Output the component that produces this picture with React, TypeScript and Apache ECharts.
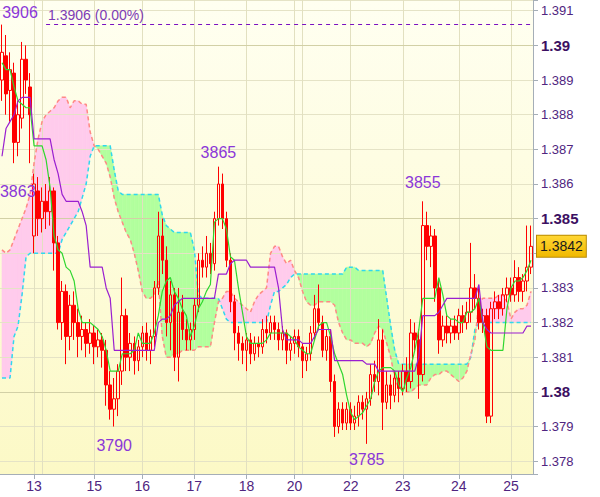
import React, { useEffect, useRef } from 'react';
import * as echarts from 'echarts';

// Prices are stored in pips of 1.3xxx: 3842 => 1.3842
const dayTicks: [number, string][] = [
  [8, '13'], [23, '15'], [35, '16'], [48, '17'], [61, '18'],
  [73, '20'], [87, '22'], [100, '23'], [114, '24'], [127, '25'],
];
const sessionLines = [10, 75];
const majorLevels = [3800, 3850, 3900];
const refLevel = 3906;
const refStart = 11;

const open = [
  3890, 3897, 3887, 3892, 3872, 3879, 3896, 3888, 3845, 3858,
  3850, 3855, 3852, 3858, 3843, 3820, 3829, 3816, 3825, 3820,
  3816, 3818, 3814, 3817, 3813, 3815, 3812, 3802, 3795, 3798,
  3806, 3822, 3810, 3814, 3809, 3813, 3817, 3812, 3816, 3830,
  3845, 3838, 3820, 3828, 3810, 3823, 3818, 3815, 3818, 3825,
  3838, 3836, 3840, 3837, 3850, 3860, 3850, 3838, 3826, 3817,
  3814, 3812, 3815, 3811, 3814, 3813, 3818, 3817, 3820, 3818,
  3815, 3817, 3812, 3814, 3816, 3813, 3809, 3811, 3817, 3824,
  3820, 3812, 3816, 3803, 3790, 3795, 3791, 3795, 3791, 3793,
  3797, 3795, 3798, 3805, 3803, 3815, 3797, 3802, 3799, 3804,
  3801, 3806, 3803, 3817, 3815, 3805, 3848, 3842, 3845, 3830,
  3815, 3819, 3817, 3819, 3817, 3822, 3820, 3823, 3830, 3827,
  3820, 3822, 3793, 3824, 3826, 3824, 3828, 3830, 3828, 3833,
  3829, 3832, 3836,
];
const close = [
  3898, 3886, 3893, 3872, 3880, 3896, 3890, 3880, 3860, 3850,
  3855, 3852, 3858, 3843, 3820, 3829, 3816, 3825, 3820, 3816,
  3818, 3814, 3817, 3813, 3815, 3812, 3802, 3795, 3798, 3806,
  3822, 3810, 3814, 3809, 3813, 3817, 3812, 3816, 3830, 3845,
  3838, 3820, 3828, 3810, 3823, 3818, 3815, 3818, 3825, 3838,
  3836, 3840, 3837, 3850, 3860, 3850, 3838, 3826, 3817, 3814,
  3812, 3815, 3811, 3814, 3813, 3818, 3817, 3820, 3818, 3815,
  3817, 3812, 3814, 3816, 3813, 3809, 3811, 3817, 3824, 3820,
  3812, 3816, 3803, 3790, 3795, 3791, 3795, 3791, 3793, 3797,
  3795, 3798, 3805, 3803, 3815, 3797, 3802, 3799, 3804, 3801,
  3806, 3803, 3817, 3815, 3805, 3848, 3842, 3845, 3830, 3815,
  3819, 3817, 3819, 3817, 3822, 3820, 3823, 3830, 3827, 3820,
  3822, 3793, 3824, 3826, 3824, 3828, 3830, 3828, 3833, 3829,
  3832, 3836, 3842,
];
const high = [
  3906, 3903, 3898, 3895, 3884, 3901, 3900, 3892, 3863, 3862,
  3859, 3860, 3862, 3859, 3845, 3832, 3831, 3828, 3829, 3824,
  3822, 3820, 3821, 3819, 3818, 3817, 3815, 3806, 3804, 3808,
  3833, 3824, 3817, 3816, 3815, 3819, 3820, 3818, 3832, 3852,
  3850, 3842, 3832, 3830, 3830, 3828, 3821, 3820, 3827, 3840,
  3842, 3845, 3843, 3852, 3865, 3863, 3852, 3840, 3828, 3819,
  3816, 3817, 3817, 3816, 3816, 3821, 3822, 3822, 3822, 3820,
  3819, 3818, 3816, 3818, 3818, 3814, 3813, 3819, 3828, 3831,
  3822, 3818, 3818, 3805, 3797, 3797, 3797, 3797, 3796, 3799,
  3799, 3800, 3808, 3809, 3821, 3818, 3806, 3805, 3806, 3806,
  3808, 3810, 3821, 3820, 3818, 3855, 3852, 3848, 3847, 3832,
  3822, 3822, 3821, 3822, 3824, 3825, 3826, 3843, 3834, 3830,
  3824, 3824, 3826, 3829, 3828, 3830, 3833, 3833, 3838, 3836,
  3834, 3848, 3848,
];
const low = [
  3884, 3880, 3878, 3866, 3868, 3876, 3886, 3866, 3840, 3845,
  3846, 3847, 3848, 3835, 3818, 3815, 3808, 3812, 3815, 3810,
  3812, 3810, 3811, 3808, 3810, 3807, 3796, 3792, 3790, 3793,
  3802, 3806, 3806, 3805, 3806, 3810, 3809, 3808, 3813, 3828,
  3834, 3816, 3812, 3806, 3803, 3815, 3812, 3812, 3815, 3823,
  3833, 3833, 3834, 3835, 3848, 3847, 3836, 3823, 3812, 3809,
  3808, 3806, 3808, 3809, 3810, 3811, 3814, 3815, 3815, 3812,
  3812, 3808, 3809, 3811, 3810, 3804, 3806, 3809, 3815, 3818,
  3810, 3809, 3800, 3787, 3788, 3789, 3789, 3789, 3789, 3790,
  3792, 3785, 3796, 3800, 3799, 3789, 3795, 3795, 3797, 3797,
  3799, 3800, 3801, 3812, 3798, 3803, 3838, 3836, 3826, 3811,
  3813, 3814, 3814, 3815, 3815, 3817, 3818, 3820, 3824, 3818,
  3817, 3791, 3791, 3821, 3821, 3822, 3826, 3826, 3826, 3826,
  3826, 3829, 3834,
];
const tenkan = [
  3895, 3893, 3893, 3888, 3884, 3883, 3882, 3882, 3871, 3871,
  3871, 3867, 3859, 3845, 3841, 3840, 3836, 3835, 3832, 3824,
  3820, 3820, 3820, 3819, 3818, 3816, 3812, 3806, 3806, 3806,
  3811, 3811, 3811, 3812, 3817, 3814, 3814, 3814, 3817, 3822,
  3829, 3832, 3833, 3829, 3827, 3824, 3822, 3816, 3819, 3824,
  3826, 3829, 3831, 3849, 3850, 3850, 3847, 3839, 3838, 3830,
  3823, 3816, 3814, 3814, 3814, 3814, 3815, 3817, 3817, 3817,
  3817, 3817, 3816, 3815, 3813, 3812, 3811, 3811, 3815, 3819,
  3820, 3820, 3816, 3811, 3808, 3805, 3799, 3794, 3792, 3793,
  3794, 3796, 3798, 3803, 3806, 3807, 3807, 3807, 3806, 3802,
  3800, 3804, 3807, 3812, 3818, 3827, 3827, 3827, 3827, 3833,
  3828, 3822, 3821, 3821, 3820, 3820, 3823, 3823, 3824, 3827,
  3820, 3813, 3812, 3812, 3812, 3812, 3824, 3830, 3832, 3832,
  3833, 3835, 3838,
];
const kijun = [
  3868, 3876, 3878, 3880, 3884, 3885, 3885, 3885, 3873, 3873,
  3873, 3873, 3873, 3867, 3863, 3857, 3855, 3855, 3855, 3855,
  3852, 3848, 3836, 3836, 3836, 3836, 3830, 3827, 3812, 3812,
  3812, 3812, 3812, 3812, 3812, 3812, 3812, 3812, 3812, 3820,
  3821, 3821, 3822, 3825, 3826, 3827, 3827, 3827, 3827, 3827,
  3827, 3827, 3827, 3827, 3834, 3834, 3834, 3837, 3838, 3838,
  3838, 3838, 3836, 3836, 3836, 3836, 3836, 3836, 3836, 3830,
  3818, 3815, 3815, 3815, 3815, 3814, 3814, 3814, 3816, 3818,
  3818, 3818, 3818, 3809, 3809, 3809, 3809, 3809, 3809, 3809,
  3809, 3808, 3808, 3808, 3806, 3806, 3806, 3806, 3806, 3806,
  3806, 3806, 3806, 3806, 3810, 3822, 3822, 3822, 3822, 3823,
  3825, 3827, 3827, 3827, 3827, 3827, 3827, 3827, 3827, 3831,
  3820, 3818, 3817, 3817, 3817, 3817, 3817, 3817, 3817, 3817,
  3817, 3819, 3819,
];
const spanA = [
  3804, 3804, 3804, 3816, 3819, 3828, 3839, 3840, 3840, 3840,
  3840, 3840, 3840, 3840, 3840, 3844, 3846, 3848, 3850, 3852,
  3856, 3860, 3868, 3871, 3871, 3871, 3871, 3871, 3864, 3858,
  3857, 3857, 3857, 3857, 3857, 3857, 3857, 3857, 3857, 3857,
  3851, 3848, 3847, 3846, 3846, 3846, 3846, 3846, 3841, 3828,
  3827, 3827, 3827, 3827, 3827, 3824, 3821, 3820, 3820, 3820,
  3820, 3820, 3820, 3820, 3820, 3820, 3820, 3825, 3829, 3829,
  3830, 3831, 3833, 3834, 3834, 3834, 3834, 3834, 3834, 3834,
  3834, 3834, 3834, 3834, 3834, 3834, 3836, 3836, 3836, 3835,
  3835, 3835, 3835, 3835, 3835, 3835, 3827, 3819, 3812, 3808,
  3808, 3808, 3808, 3808, 3808, 3808, 3808, 3808, 3808, 3808,
  3808, 3808, 3808, 3808, 3808, 3808, 3808, 3810, 3818, 3820,
  3820, 3820, 3820, 3820, 3820, 3820, 3820, 3820, 3820, 3820,
  3820, 3820, 3820,
];
const spanB = [
  3841, 3840, 3841, 3844, 3847, 3850, 3853, 3857, 3866, 3873,
  3878, 3880, 3881, 3882, 3884, 3885, 3885, 3882, 3884, 3884,
  3883, 3883, 3875, 3871, 3870, 3868, 3866, 3862, 3856, 3852,
  3849, 3846, 3844, 3840, 3835, 3829, 3827, 3827, 3828, 3832,
  3816, 3810, 3810, 3811, 3811, 3812, 3812, 3812, 3812, 3813,
  3813, 3813, 3813, 3820, 3826, 3827, 3829, 3829, 3827, 3826,
  3825, 3824, 3823, 3826, 3828, 3829, 3830, 3840, 3842, 3842,
  3839, 3837, 3838, 3835, 3833, 3829, 3826, 3825, 3825, 3826,
  3826, 3826, 3826, 3825, 3820, 3817, 3815, 3815, 3814, 3814,
  3814, 3813, 3814, 3817, 3819, 3818, 3814, 3810, 3804, 3801,
  3801, 3800, 3800, 3801, 3802, 3802, 3802, 3804, 3805, 3805,
  3806, 3806, 3805, 3804, 3803, 3804, 3806, 3811, 3815, 3826,
  3827, 3827, 3827, 3827, 3828, 3828, 3826, 3821, 3823, 3824,
  3824, 3825, 3829,
];
// swing high / low markers: [candle index, pips]
const swingHighs: [number, number][] = [[0, 3906], [8, 3863], [54, 3865], [105, 3855]];
const swingLows: [number, number][] = [[28, 3790], [91, 3785]];

const Y_MIN = 1.37763;
const Y_MAX = 1.39131;
const FONT = "'Liberation Sans', Arial, sans-serif";
const AXIS_COLOR = '#a5aeb7';
const LABEL_COLOR = '#502580';
const GREEN = '#b2ff9e';
const PINK = '#ffcbec';

const px = (v: number) => +(1 + v / 10000).toFixed(4);

export default function App() {
  const ref = useRef<HTMLDivElement>(null);

  useEffect(() => {
    if (!ref.current) return;
    const chart = echarts.init(ref.current, undefined, { renderer: 'svg' });
    const N = open.length;
    const categories = Array.from({ length: N }, (_, i) => {
      const t = dayTicks.find((d) => d[0] === i);
      return t ? t[1] : '';
    });
    const gridSet = new Set<number>([...dayTicks.map((d) => d[0]), ...sessionLines]);
    const candles = open.map((o, i) => [px(o), px(close[i]), px(low[i]), px(high[i])]);
    const cloud = spanA.slice(0, N - 1).map((a, i) => [i, px(a), px(spanB[i]), px(spanA[i + 1]), px(spanB[i + 1])]);

    const labelStyle: Record<number, any> = {
      0: { position: 'top', distance: 4, offset: [18, 0] },
      8: { position: 'left', distance: 1, offset: [3, 18] },
      54: { position: 'top', distance: 6 },
      105: { position: 'top', distance: 10 },
      28: { position: 'bottom', distance: 10 },
      91: { position: 'bottom', distance: 7 },
    };
    const markData = [...swingHighs, ...swingLows].map(([i, v]) => ({
      coord: [i, px(v)],
      value: v,
      label: labelStyle[i],
    }));
    const last = px(close[N - 1]);

    const option: any = {
      animation: false,
      backgroundColor: '#ffffff',
      grid: {
        left: 0, right: 67, top: 0, bottom: 23, show: true, borderWidth: 0,
        backgroundColor: new echarts.graphic.LinearGradient(0, 0, 0, 1, [
          { offset: 0, color: '#fffff1' },
          { offset: 1, color: '#fcf9c6' },
        ]),
      },
      xAxis: {
        type: 'category', data: categories, boundaryGap: true, z: 2,
        axisLine: { lineStyle: { color: AXIS_COLOR, width: 1 } },
        axisTick: {
          show: true, alignWithLabel: true, length: 5,
          interval: (_i: number, v: string) => v !== '',
          lineStyle: { color: AXIS_COLOR },
        },
        axisLabel: {
          interval: (_i: number, v: string) => v !== '',
          color: LABEL_COLOR, fontSize: 14, fontFamily: FONT, margin: 5,
        },
        splitLine: {
          show: true, alignWithLabel: true,
          interval: (i: number) => gridSet.has(i),
          lineStyle: { color: '#e2e0c0', width: 1 },
        },
      },
      yAxis: {
        type: 'value', position: 'right', min: Y_MIN, max: Y_MAX, z: 2,
        splitNumber: 13, minInterval: 0.001, maxInterval: 0.001,
        axisLine: { show: true, lineStyle: { color: AXIS_COLOR } },
        axisTick: { show: true, length: 5, lineStyle: { color: AXIS_COLOR } },
        axisLabel: {
          margin: 8,
          formatter: (v: number) => {
            const k = Math.round(v * 1000);
            if (Math.abs(v * 1000 - k) > 1e-6) return '';
            if (Math.abs(v - last) < 0.0006) return '';
            const s = String(k / 1000);
            return k % 5 === 0 ? `{b|${s}}` : `{n|${s}}`;
          },
          rich: {
            n: { color: LABEL_COLOR, fontSize: 13, fontFamily: FONT },
            b: { color: '#3c1062', fontSize: 15, fontWeight: 'bold', fontFamily: FONT },
          },
        },
        splitLine: { show: true, lineStyle: { color: '#e5e3c6', width: 1 } },
      },
      series: [
        {
          type: 'custom', name: 'kumo', z: 1, silent: true, clip: true,
          data: cloud,
          encode: { x: 0, y: [1, 2, 3, 4] },
          renderItem: (_p: any, api: any) => {
            const i = api.value(0);
            const a0 = api.value(1), b0 = api.value(2), a1 = api.value(3), b1 = api.value(4);
            const pa0 = api.coord([i, a0]), pb0 = api.coord([i, b0]);
            const pa1 = api.coord([i + 1, a1]), pb1 = api.coord([i + 1, b1]);
            const col = (up: boolean) => (up ? GREEN : PINK);
            const d0 = a0 - b0, d1 = a1 - b1;
            const children: any[] = [];
            if (d0 * d1 >= 0) {
              const c = col(d0 + d1 > 0);
              children.push({ type: 'polygon', shape: { points: [pa0, pa1, pb1, pb0] }, style: { fill: c, stroke: c, lineWidth: 0.6 } });
            } else {
              const t = d0 / (d0 - d1);
              const pc = [pa0[0] + t * (pa1[0] - pa0[0]), pa0[1] + t * (pa1[1] - pa0[1])];
              const c0 = col(d0 > 0), c1 = col(d1 > 0);
              children.push({ type: 'polygon', shape: { points: [pa0, pc, pb0] }, style: { fill: c0, stroke: c0, lineWidth: 0.6 } });
              children.push({ type: 'polygon', shape: { points: [pc, pa1, pb1] }, style: { fill: c1, stroke: c1, lineWidth: 0.6 } });
            }
            return { type: 'group', children };
          },
          markLine: {
            silent: true, z: 2, precision: 4, symbol: ['none', 'none'],
            label: { show: false },
            lineStyle: { color: '#d2d0a6', type: 'solid', width: 1 },
            data: majorLevels.map((v) => ({ yAxis: px(v) })),
          },
        },
        {
          type: 'line', name: 'Senkou A', z: 3, data: spanA.map(px), symbol: 'none', silent: true,
          lineStyle: { color: '#30d8ee', width: 1.5, type: [4, 3] },
        },
        {
          type: 'line', name: 'Senkou B', z: 3, data: spanB.map(px), symbol: 'none', silent: true,
          lineStyle: { color: '#ff8a84', width: 1.5, type: [4, 3] },
        },
        {
          type: 'candlestick', name: 'price', z: 4, data: candles, barWidth: 3,
          itemStyle: {
            color: 'rgba(255,255,255,0)', color0: '#ff0000',
            borderColor: '#ff0000', borderColor0: '#ff0000', borderWidth: 1,
          },
          markPoint: {
            silent: true, symbol: 'circle', symbolSize: 1,
            itemStyle: { color: 'rgba(0,0,0,0)' },
            label: { show: true, color: '#8b37d8', fontSize: 16, fontFamily: FONT, formatter: '{c}' },
            data: markData,
          },
        },
        {
          type: 'line', name: 'Tenkan', z: 5, data: tenkan.map(px), symbol: 'none', silent: true,
          lineStyle: { color: '#2fd62f', width: 1.2 },
          markLine: {
            silent: true, z: 6, precision: 4, symbol: ['none', 'none'],
            lineStyle: { color: 'rgba(0,0,0,0)', width: 0 },
            label: {
              show: true, position: 'end', distance: 4,
              formatter: last.toFixed(4),
              backgroundColor: new echarts.graphic.LinearGradient(0, 0, 0, 1, [
                { offset: 0, color: '#ffd633' },
                { offset: 1, color: '#f0b800' },
              ]),
              borderColor: '#b88a00', borderWidth: 1, padding: [4, 3, 3, 3],
              color: '#1a1a1a', fontSize: 14, fontFamily: FONT,
            },
            data: [{ yAxis: last }],
          },
        },
        {
          type: 'line', name: 'Kijun', z: 5, data: kijun.map(px), symbol: 'none', silent: true,
          lineStyle: { color: '#9a1fd0', width: 1.2 },
          markLine: {
            silent: true, precision: 4, symbol: ['none', 'none'],
            lineStyle: { color: '#7a10c0', type: [4, 4], width: 1 },
            label: {
              show: true, position: 'insideStartTop', distance: [2, 3],
              formatter: `${px(refLevel).toFixed(4)} (0.00%)`,
              color: '#7d3cb5', fontSize: 14, fontFamily: FONT,
            },
            data: [[{ coord: [refStart, px(refLevel)] }, { coord: [N - 1, px(refLevel)] }]],
          },
        },
      ],
    };
    chart.setOption(option);
    return () => chart.dispose();
  }, []);

  return (
    <div
      ref={ref}
      style={{
        position: 'absolute', left: 0, top: 0, width: 600, height: 497,
        outline: '1px solid #a5aeb7', outlineOffset: -1,
      }}
    />
  );
}
